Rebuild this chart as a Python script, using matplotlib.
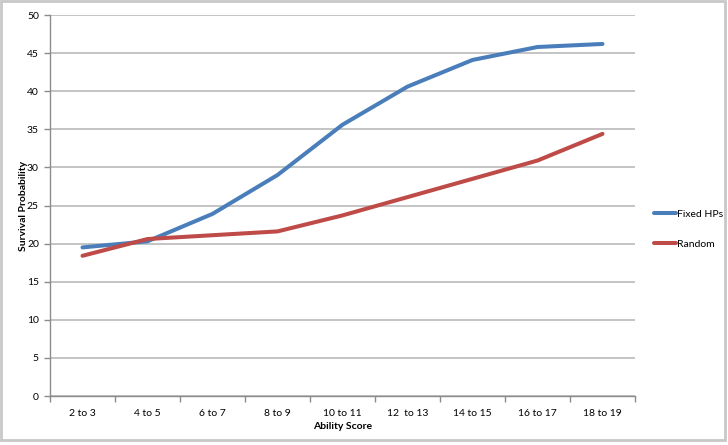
import matplotlib
matplotlib.use("Agg")
import matplotlib.pyplot as plt
from matplotlib.patches import Rectangle
import numpy as np

categories = ["2 to 3", "4 to 5", "6 to 7", "8 to 9", "10 to 11",
              "12  to 13", "14 to 15", "16 to 17", "18 to 19"]
fixed_hps = [19.5, 20.3, 23.9, 29.0, 35.6, 40.6, 44.1, 45.8, 46.2]
random_hps = [18.4, 20.6, 21.1, 21.6, 23.7, 26.1, 28.5, 30.9, 34.4]

GRID = "#bfbfbf"
AXIS = "#8c8c8c"

plt.rcParams["font.family"] = ["Lato", "DejaVu Sans"]

fig = plt.figure(figsize=(7.28, 4.45), dpi=100)
ax = fig.add_axes([50 / 728, 49 / 445, 585 / 728, 381 / 445])

x = np.arange(len(categories))
ax.plot(x, fixed_hps, color="#4a7ebb", lw=2.9, solid_capstyle="round",
        solid_joinstyle="round", label="Fixed HPs", zorder=3)
ax.plot(x, random_hps, color="#be4b48", lw=2.9, solid_capstyle="round",
        solid_joinstyle="round", label="Random", zorder=3)

ax.set_xlim(-0.5, len(categories) - 0.5)
ax.set_ylim(0, 50)
ax.set_yticks(np.arange(0, 51, 5))
ax.yaxis.grid(True, color=GRID, lw=1.3)
ax.set_axisbelow(True)

ax.set_xticks(np.arange(-0.5, len(categories), 1))
ax.set_xticklabels([])
ax.set_xticks(x, minor=True)
ax.set_xticklabels(categories, minor=True)
ax.tick_params(axis="x", which="major", length=4, color=AXIS, width=1)
ax.tick_params(axis="x", which="minor", length=0, pad=9, labelsize=7.5)
ax.tick_params(axis="y", length=4, color=AXIS, width=1, labelsize=7.5, pad=4)

for side in ("top", "right"):
    ax.spines[side].set_visible(False)
for side in ("left", "bottom"):
    ax.spines[side].set_color(AXIS)
    ax.spines[side].set_linewidth(1)

ax.set_xlabel("Ability Score", fontsize=7.5, fontweight="bold", labelpad=3)
ax.set_ylabel("Survival Probability", fontsize=7.5, fontweight="bold")
ax.yaxis.set_label_coords(-22 / 585, 0.5)

leg = fig.legend(loc="upper left", bbox_to_anchor=(645 / 728, 1 - 200 / 445),
                 frameon=False, fontsize=7.5, handlelength=2.1,
                 handletextpad=0.1, labelspacing=2.0)

fig.patches.append(Rectangle((0.002, 0.012), 0.994, 0.985,
                             transform=fig.transFigure, fill=False,
                             edgecolor="#c8c8c8", lw=2))

fig.savefig("out.png", dpi=100)
